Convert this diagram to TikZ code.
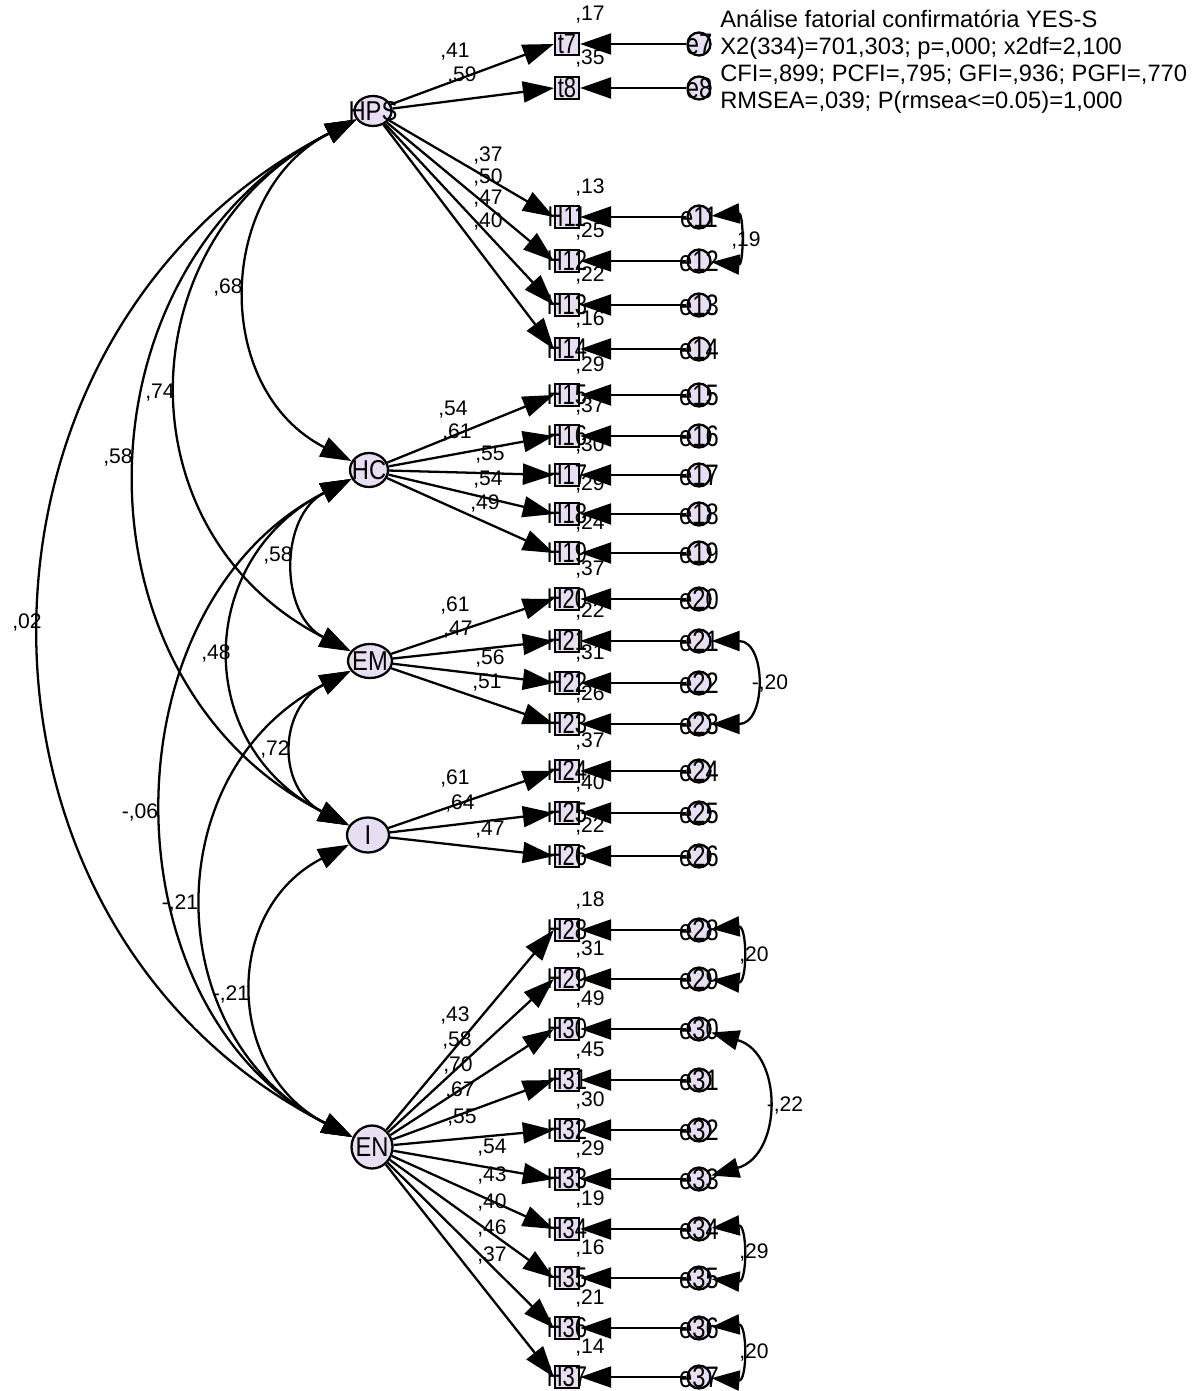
\documentclass[tikz,border=0pt]{standalone}
\usepackage{fontspec}
\setmainfont{Liberation Sans}
\usetikzlibrary{arrows.meta,shapes.geometric}
\definecolor{latfill}{RGB}{232,222,242}
\begin{document}
\begin{tikzpicture}[x=0.02cm,y=0.02cm,
latent/.style={ellipse,draw,line width=1.3pt,fill=latfill,inner sep=0pt,label={[font=\fontsize{13.5}{13.5}\selectfont]center:\scalebox{1}[1.15]{#1}}},
obs/.style={rectangle,draw,line width=1.3pt,fill=latfill,minimum width=0.48cm,minimum height=0.44cm,inner sep=0pt,label={[font=\fontsize{12.5}{12.5}\selectfont]center:\scalebox{1}[1.3]{#1}}},
err/.style={circle,draw,line width=1.3pt,fill=latfill,minimum size=0.46cm,inner sep=0pt,label={[font=\fontsize{13.5}{13.5}\selectfont]center:\scalebox{1}[1.25]{#1}}},
rsq/.style={font=\fontsize{12}{12}\selectfont,inner sep=0pt,xshift=0.46cm,yshift=0.17cm},
coef/.style={font=\fontsize{12}{12}\selectfont,inner sep=0pt},
load/.style={line width=1.3pt,-{Triangle[length=0.62cm,width=0.42cm]}},
cov/.style={line width=1.3pt,{Triangle[length=0.62cm,width=0.42cm]}-{Triangle[length=0.62cm,width=0.42cm]},out=207,in=153,looseness=1.2},
ecov/.style={line width=1.3pt,{Triangle[length=0.56cm,width=0.4cm]}-{Triangle[length=0.56cm,width=0.4cm]},out=5,in=-5,looseness=1.8}]
\useasboundingbox (0,0) rectangle (1201,-1391);
\node[anchor=north west,align=left,inner sep=0pt,font=\fontsize{13.5}{15.4}\selectfont] (fitinfo) at (720,-10) {Análise fatorial confirmatória YES-S\\X2(334)=701,303; p=,000; x2df=2,100\\CFI=,899; PCFI=,795; GFI=,936; PGFI=,770\\RMSEA=,039; P(rmsea<=0.05)=1,000};
\node[latent=HPS,minimum width=0.74cm,minimum height=0.6cm] (HPS) at (373,-111) {};
\node[latent=HC,minimum width=0.76cm,minimum height=0.68cm] (HC) at (369,-470) {};
\node[latent=EM,minimum width=0.88cm,minimum height=0.68cm] (EM) at (370,-661) {};
\node[latent=I,minimum width=0.84cm,minimum height=0.7cm] (I) at (368,-835) {};
\node[latent=EN,minimum width=0.82cm,minimum height=0.86cm] (EN) at (372,-1147) {};
\node[obs=t7,label={[rsq]above:{,17}}] (t7) at (567,-44) {};
\node[obs=t8,label={[rsq]above:{,35}}] (t8) at (567,-88) {};
\node[obs=H11,label={[rsq]above:{,13}}] (H11) at (567,-217) {};
\node[obs=H12,label={[rsq]above:{,25}}] (H12) at (567,-261) {};
\node[obs=H13,label={[rsq]above:{,22}}] (H13) at (567,-305) {};
\node[obs=H14,label={[rsq]above:{,16}}] (H14) at (567,-349) {};
\node[obs=H15,label={[rsq]above:{,29}}] (H15) at (567,-395) {};
\node[obs=H16,label={[rsq]above:{,37}}] (H16) at (567,-436) {};
\node[obs=H17,label={[rsq]above:{,30}}] (H17) at (567,-475) {};
\node[obs=H18,label={[rsq]above:{,29}}] (H18) at (567,-514) {};
\node[obs=H19,label={[rsq]above:{,24}}] (H19) at (567,-553) {};
\node[obs=H20,label={[rsq]above:{,37}}] (H20) at (567,-599) {};
\node[obs=H21,label={[rsq]above:{,22}}] (H21) at (567,-641) {};
\node[obs=H22,label={[rsq]above:{,31}}] (H22) at (567,-683) {};
\node[obs=H23,label={[rsq]above:{,26}}] (H23) at (567,-724) {};
\node[obs=H24,label={[rsq]above:{,37}}] (H24) at (567,-771) {};
\node[obs=H25,label={[rsq]above:{,40}}] (H25) at (567,-813) {};
\node[obs=H26,label={[rsq]above:{,22}}] (H26) at (567,-856) {};
\node[obs=H28,label={[rsq]above:{,18}}] (H28) at (567,-930) {};
\node[obs=H29,label={[rsq]above:{,31}}] (H29) at (567,-979) {};
\node[obs=H30,label={[rsq]above:{,49}}] (H30) at (567,-1029) {};
\node[obs=H31,label={[rsq]above:{,45}}] (H31) at (567,-1080) {};
\node[obs=H32,label={[rsq]above:{,30}}] (H32) at (567,-1130) {};
\node[obs=H33,label={[rsq]above:{,29}}] (H33) at (567,-1179) {};
\node[obs=H34,label={[rsq]above:{,19}}] (H34) at (567,-1229) {};
\node[obs=H35,label={[rsq]above:{,16}}] (H35) at (567,-1278) {};
\node[obs=H36,label={[rsq]above:{,21}}] (H36) at (567,-1328) {};
\node[obs=H37,label={[rsq]above:{,14}}] (H37) at (567,-1377) {};
\node[err=e7] (e7) at (699,-44) {};
\node[err=e8] (e8) at (699,-88) {};
\node[err=e11] (e11) at (699,-217) {};
\node[err=e12] (e12) at (699,-261) {};
\node[err=e13] (e13) at (699,-305) {};
\node[err=e14] (e14) at (699,-349) {};
\node[err=e15] (e15) at (699,-395) {};
\node[err=e16] (e16) at (699,-436) {};
\node[err=e17] (e17) at (699,-475) {};
\node[err=e18] (e18) at (699,-514) {};
\node[err=e19] (e19) at (699,-553) {};
\node[err=e20] (e20) at (699,-599) {};
\node[err=e21] (e21) at (699,-641) {};
\node[err=e22] (e22) at (699,-683) {};
\node[err=e23] (e23) at (699,-724) {};
\node[err=e24] (e24) at (699,-771) {};
\node[err=e25] (e25) at (699,-813) {};
\node[err=e26] (e26) at (699,-856) {};
\node[err=e28] (e28) at (699,-930) {};
\node[err=e29] (e29) at (699,-979) {};
\node[err=e30] (e30) at (699,-1029) {};
\node[err=e31] (e31) at (699,-1080) {};
\node[err=e32] (e32) at (699,-1130) {};
\node[err=e33] (e33) at (699,-1179) {};
\node[err=e34] (e34) at (699,-1229) {};
\node[err=e35] (e35) at (699,-1278) {};
\node[err=e36] (e36) at (699,-1328) {};
\node[err=e37] (e37) at (699,-1377) {};
\draw[load] (HPS) -- (t7.west);
\draw[load] (HPS) -- (t8.west);
\draw[load] (HPS) -- (H11.west);
\draw[load] (HPS) -- (H12.west);
\draw[load] (HPS) -- (H13.west);
\draw[load] (HPS) -- (H14.west);
\draw[load] (HC) -- (H15.west);
\draw[load] (HC) -- (H16.west);
\draw[load] (HC) -- (H17.west);
\draw[load] (HC) -- (H18.west);
\draw[load] (HC) -- (H19.west);
\draw[load] (EM) -- (H20.west);
\draw[load] (EM) -- (H21.west);
\draw[load] (EM) -- (H22.west);
\draw[load] (EM) -- (H23.west);
\draw[load] (I) -- (H24.west);
\draw[load] (I) -- (H25.west);
\draw[load] (I) -- (H26.west);
\draw[load] (EN) -- (H28.west);
\draw[load] (EN) -- (H29.west);
\draw[load] (EN) -- (H30.west);
\draw[load] (EN) -- (H31.west);
\draw[load] (EN) -- (H32.west);
\draw[load] (EN) -- (H33.west);
\draw[load] (EN) -- (H34.west);
\draw[load] (EN) -- (H35.west);
\draw[load] (EN) -- (H36.west);
\draw[load] (EN) -- (H37.west);
\draw[load] (e7) -- (t7.east);
\draw[load] (e8) -- (t8.east);
\draw[load] (e11) -- (H11.east);
\draw[load] (e12) -- (H12.east);
\draw[load] (e13) -- (H13.east);
\draw[load] (e14) -- (H14.east);
\draw[load] (e15) -- (H15.east);
\draw[load] (e16) -- (H16.east);
\draw[load] (e17) -- (H17.east);
\draw[load] (e18) -- (H18.east);
\draw[load] (e19) -- (H19.east);
\draw[load] (e20) -- (H20.east);
\draw[load] (e21) -- (H21.east);
\draw[load] (e22) -- (H22.east);
\draw[load] (e23) -- (H23.east);
\draw[load] (e24) -- (H24.east);
\draw[load] (e25) -- (H25.east);
\draw[load] (e26) -- (H26.east);
\draw[load] (e28) -- (H28.east);
\draw[load] (e29) -- (H29.east);
\draw[load] (e30) -- (H30.east);
\draw[load] (e31) -- (H31.east);
\draw[load] (e32) -- (H32.east);
\draw[load] (e33) -- (H33.east);
\draw[load] (e34) -- (H34.east);
\draw[load] (e35) -- (H35.east);
\draw[load] (e36) -- (H36.east);
\draw[load] (e37) -- (H37.east);
\draw[cov,looseness=1.18] (HPS) to (HC);
\draw[cov,looseness=1.25] (HPS) to (EM);
\draw[cov,looseness=1.16] (HPS) to (I);
\draw[cov,looseness=1.17] (HPS) to (EN);
\draw[cov] (HC) to (EM);
\draw[cov,looseness=1.3] (HC) to (I);
\draw[cov,looseness=1.09] (HC) to (EN);
\draw[cov,looseness=1.35] (EM) to (I);
\draw[cov] (EM) to (EN);
\draw[cov,looseness=1.25] (I) to (EN);
\draw[ecov] (e11) to (e12);
\draw[ecov,out=0,in=0,looseness=1.7] (e21) to (e23);
\draw[ecov] (e28) to (e29);
\draw[ecov,out=-16,in=16,looseness=1.34] (e30) to (e33);
\draw[ecov] (e34) to (e35);
\draw[ecov] (e36) to (e37);
\node[coef] (l7) at (455,-52) {,41};
\node[coef] (l8) at (462,-75) {,59};
\node[coef] (l11) at (488,-155) {,37};
\node[coef] (l12) at (488,-177) {,50};
\node[coef] (l13) at (488,-199) {,47};
\node[coef] (l14) at (488,-221) {,40};
\node[coef] (l15) at (453,-410) {,54};
\node[coef] (l16) at (457,-432) {,61};
\node[coef] (l17) at (490,-455) {,55};
\node[coef] (l18) at (488,-480) {,54};
\node[coef] (l19) at (485,-503) {,49};
\node[coef] (l20) at (455,-605) {,61};
\node[coef] (l21) at (458,-630) {,47};
\node[coef] (l22) at (490,-658) {,56};
\node[coef] (l23) at (487,-683) {,51};
\node[coef] (l24) at (455,-778) {,61};
\node[coef] (l25) at (460,-803) {,64};
\node[coef] (l26) at (490,-830) {,47};
\node[coef] (l28) at (455,-1015) {,43};
\node[coef] (l29) at (457,-1040) {,58};
\node[coef] (l30) at (458,-1065) {,70};
\node[coef] (l31) at (460,-1090) {,67};
\node[coef] (l32) at (462,-1118) {,55};
\node[coef] (l33) at (492,-1148) {,54};
\node[coef] (l34) at (492,-1175) {,43};
\node[coef] (l35) at (492,-1202) {,40};
\node[coef] (l36) at (492,-1228) {,46};
\node[coef] (l37) at (492,-1255) {,37};
\node[coef] (r1) at (228,-287) {,68};
\node[coef] (r2) at (160,-393) {,74};
\node[coef] (r3) at (118,-457) {,58};
\node[coef] (r4) at (27,-622) {,02};
\node[coef] (r5) at (278,-555) {,58};
\node[coef] (r6) at (216,-653) {,48};
\node[coef] (r7) at (140,-812) {-,06};
\node[coef] (r8) at (275,-749) {,72};
\node[coef] (r9) at (180,-903) {-,21};
\node[coef] (r10) at (231,-994) {-,21};
\node[coef] (q1) at (746,-240) {,19};
\node[coef] (q2) at (770,-683) {-,20};
\node[coef] (q3) at (754,-955) {,20};
\node[coef] (q4) at (785,-1105) {-,22};
\node[coef] (q5) at (754,-1252) {,29};
\node[coef] (q6) at (754,-1352) {,20};
\end{tikzpicture}
\end{document}
